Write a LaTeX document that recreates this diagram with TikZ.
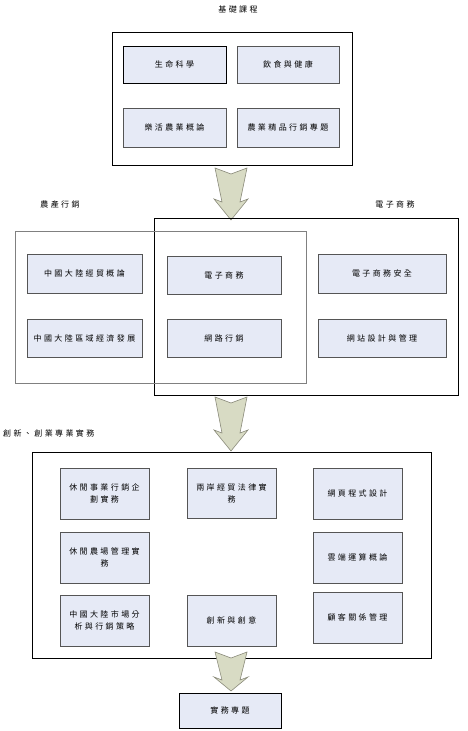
\documentclass[tikz,border=0pt]{standalone}
\usepackage{fontspec}
\newfontfamily\cjk[LetterSpace=30]{Noto Sans CJK TC}
\usetikzlibrary{calc}
\definecolor{boxfill}{HTML}{E6EAF6}
\definecolor{boxline}{HTML}{555555}
\definecolor{arrowfill}{HTML}{D8DBC4}
\definecolor{arrowline}{HTML}{8A8A7A}

\begin{document}
\begin{tikzpicture}[x=1pt, y=-1pt,
  every node/.style={font=\cjk\fontsize{8}{12}\selectfont},
  course/.style={draw=boxline, fill=boxfill, line width=0.8pt, inner sep=0pt, align=center},
  group/.style={draw, line width=0.8pt, inner sep=0pt},
  title/.style={inner sep=0pt},
  pics/downarrow/.style 2 args={code={
    \draw[fill=arrowfill, draw=arrowline, line width=0.6pt]
      (0,0) -- (-17,-#2) -- (-9,-#2+3) -- (-16,-#1) -- (0,-#1+6)
      -- (16,-#1) -- (9,-#2+3) -- (17,-#2) -- cycle;
  }}]
\useasboundingbox (0,0) rectangle (467,731);

% Basic courses
\node[title] (t-basic) at (238,9) {基礎課程};
\node[group, minimum width=240pt, minimum height=133pt] (basic) at (232,98.5) {};
\node[course, draw=black, minimum width=103pt, minimum height=37pt] (life) at (174.5,64.5) {生命科學};
\node[course, minimum width=102pt, minimum height=37pt] (diet) at (288,64.5) {飲食與健康};
\node[course, minimum width=103pt, minimum height=39pt] (lohas) at (174.5,127.5) {樂活農業概論};
\node[course, minimum width=102pt, minimum height=39pt] (boutique) at (288,127.5) {農業精品行銷專題};

\pic at (231,220) {downarrow={52}{21}};

% Agricultural marketing / e-commerce
\node[title] (t-agri) at (60,204) {農產行銷};
\node[title] (t-ec) at (395,204) {電子商務};
\node[group, minimum width=304pt, minimum height=177pt] (ecbox) at (306,306.5) {};
\node[group, draw=gray, minimum width=291pt, minimum height=152pt] (agribox) at (160.5,307) {};

\node[course, minimum width=115pt, minimum height=39pt] (cntrade) at (84.5,273.5) {中國大陸經貿概論};
\node[course, minimum width=115pt, minimum height=38pt] (cnregion) at (84.5,338) {中國大陸區域經濟發展};
\node[course, minimum width=114pt, minimum height=38pt] (ec) at (224,275) {電子商務};
\node[course, minimum width=114pt, minimum height=38pt] (netmkt) at (224,338) {網路行銷};
\node[course, minimum width=128pt, minimum height=39pt] (ecsafe) at (382,273.5) {電子商務安全};
\node[course, minimum width=128pt, minimum height=38pt] (webmgmt) at (382,338) {網站設計與管理};

\pic at (231,451) {downarrow={54}{21}};

% Innovation and entrepreneurship practice
\node[title, anchor=west] (t-innov) at (3,433) {創新、創業專業實務};
\node[group, minimum width=399pt, minimum height=206pt] (innov) at (231.5,555) {};

\node[course, minimum width=89pt, minimum height=51pt] (leisure) at (104.5,493.5) {休閒事業行銷企\\劃實務};
\node[course, minimum width=89pt, minimum height=50pt] (law) at (231.5,493) {兩岸經貿法律實\\務};
\node[course, minimum width=89pt, minimum height=51pt] (webprog) at (357.5,493.5) {網頁程式設計};
\node[course, minimum width=89pt, minimum height=51pt] (farm) at (104.5,557.5) {休閒農場管理實\\務};
\node[course, minimum width=89pt, minimum height=51pt] (cloud) at (357.5,557.5) {雲端運算概論};
\node[course, minimum width=89pt, minimum height=51pt] (cnmarket) at (104.5,620.5) {中國大陸市場分\\析與行銷策略};
\node[course, minimum width=89pt, minimum height=51pt] (create) at (231.5,620.5) {創新與創意};
\node[course, minimum width=89pt, minimum height=51pt] (crm) at (357.5,617.5) {顧客關係管理};

\pic at (231,691) {downarrow={39}{14}};

% Practical project
\node[course, draw=black, minimum width=102pt, minimum height=35pt] (project) at (230,710.5) {實務專題};
\end{tikzpicture}
\end{document}
